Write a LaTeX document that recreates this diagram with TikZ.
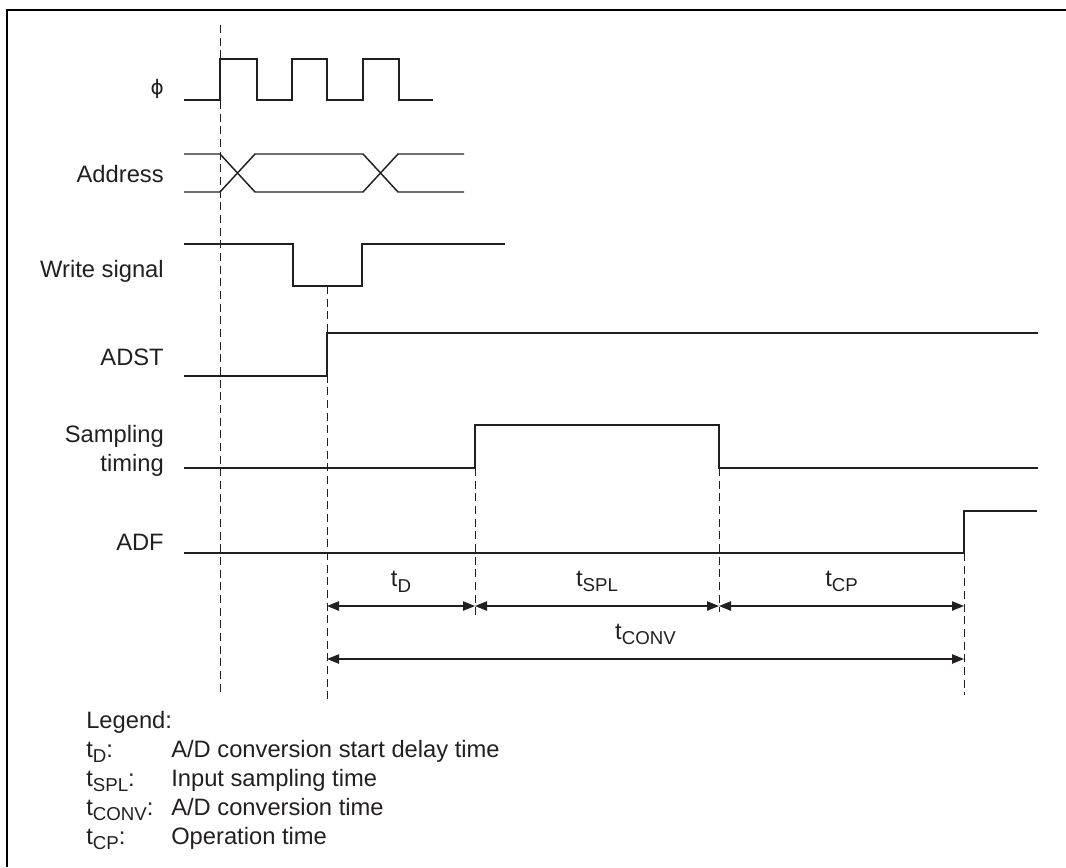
\documentclass[tikz,border=0pt]{standalone}
\usepackage{fontspec}
\setmainfont{Liberation Sans}
\newfontfamily\symfont{DejaVu Sans}
\usetikzlibrary{arrows.meta,positioning}
\definecolor{inkgray}{RGB}{35,31,32}
\newcommand{\tsub}[1]{t\raisebox{-4pt}{\fontsize{14}{14}\selectfont #1}}

\begin{document}
\begin{tikzpicture}[
  x=0.75pt, y=-0.75pt,
  txt/.style={inner sep=0pt, font=\fontsize{17.8}{21.75}\selectfont, text=inkgray},
  lbl/.style={txt, anchor=base east},
  legend/.style={txt, anchor=base west},
  wave/.style={line width=1.1pt, inkgray},
  guide/.style={line width=0.7pt, inkgray, dash pattern=on 6pt off 3.5pt},
  dimarr/.style={{Triangle[length=9pt,width=7pt]}-{Triangle[length=9pt,width=7pt]},
    line width=1pt, inkgray},
  dimlbl/.style={txt, midway, above=10pt}
]
\useasboundingbox (0,0) rectangle (1066,867);

%% ── FRAME ──
\draw[line width=1.9pt] (7,867) -- (7,10) -- (1066,10);

%% ── SIGNAL NAMES ──
\node[lbl] (phi)   at (164,94)  {\symfont\fontsize{15}{15}\selectfont ϕ};
\node[lbl] (addr)  at (164,182) {Address};
\node[lbl] (wr)    at (164,277) {Write signal};
\node[lbl] (adst)  at (164,365) {ADST};
\node[lbl] (samp)  at (164,442) {Sampling};
\node[lbl] (tim)   at (164,471) {timing};
\node[lbl] (adf)   at (164,550) {ADF};

%% ── WAVEFORMS ──
\draw[wave] (184,100) -- (220,100) -- (220,59) -- (257,59) -- (257,100)
  -- (292,100) -- (292,59) -- (327,59) -- (327,100) -- (363,100)
  -- (363,59) -- (399,59) -- (399,100) -- (433,100);
\draw[wave] (184,154) -- (220,154) -- (255,192) -- (363,192) -- (398,154) -- (464,154);
\draw[wave] (184,192) -- (220,192) -- (255,154) -- (363,154) -- (398,192) -- (464,192);
\draw[wave] (184,244) -- (293,244) -- (293,286) -- (362,286) -- (362,244) -- (505,244);
\draw[wave] (184,376) -- (327,376) -- (327,333) -- (1038,333);
\draw[wave] (184,468) -- (475,468) -- (475,425) -- (719,425) -- (719,468) -- (1038,468);
\draw[wave] (184,553) -- (964,553) -- (964,511) -- (1037,511);

%% ── TIMING GUIDES ──
\draw[guide] (220,25)  -- (220,695);
\draw[guide] (327,286) -- (327,700);
\draw[guide] (475,468) -- (475,615);
\draw[guide] (719,468) -- (719,612);
\draw[guide] (964,553) -- (964,695);

%% ── INTERVALS ──
\coordinate (st)  at (327,606);
\coordinate (sp0) at (475,606);
\coordinate (sp1) at (719,606);
\coordinate (fin) at (964,606);
\coordinate (cv0) at (327,659);
\coordinate (cv1) at (964,659);

\draw[dimarr] (st)  -- node[dimlbl] {\tsub{D}}    (sp0);
\draw[dimarr] (sp0) -- node[dimlbl] {\tsub{SPL}}  (sp1);
\draw[dimarr] (sp1) -- node[dimlbl] {\tsub{CP}}   (fin);
\draw[dimarr] (cv0) -- node[dimlbl] {\tsub{CONV}} (cv1);

%% ── LEGEND ──
\node[legend] (lg)  at (86,728)  {Legend:};
\node[legend] (k1)  at (86,757)  {\tsub{D}:};
\node[legend] (v1)  at (171,757) {A/D conversion start delay time};
\node[legend] (k2)  at (86,786)  {\tsub{SPL}:};
\node[legend] (v2)  at (171,786) {Input sampling time};
\node[legend] (k3)  at (86,815)  {\tsub{CONV}:};
\node[legend] (v3)  at (171,815) {A/D conversion time};
\node[legend] (k4)  at (86,844)  {\tsub{CP}:};
\node[legend] (v4)  at (171,844) {Operation time};

\end{tikzpicture}
\end{document}
